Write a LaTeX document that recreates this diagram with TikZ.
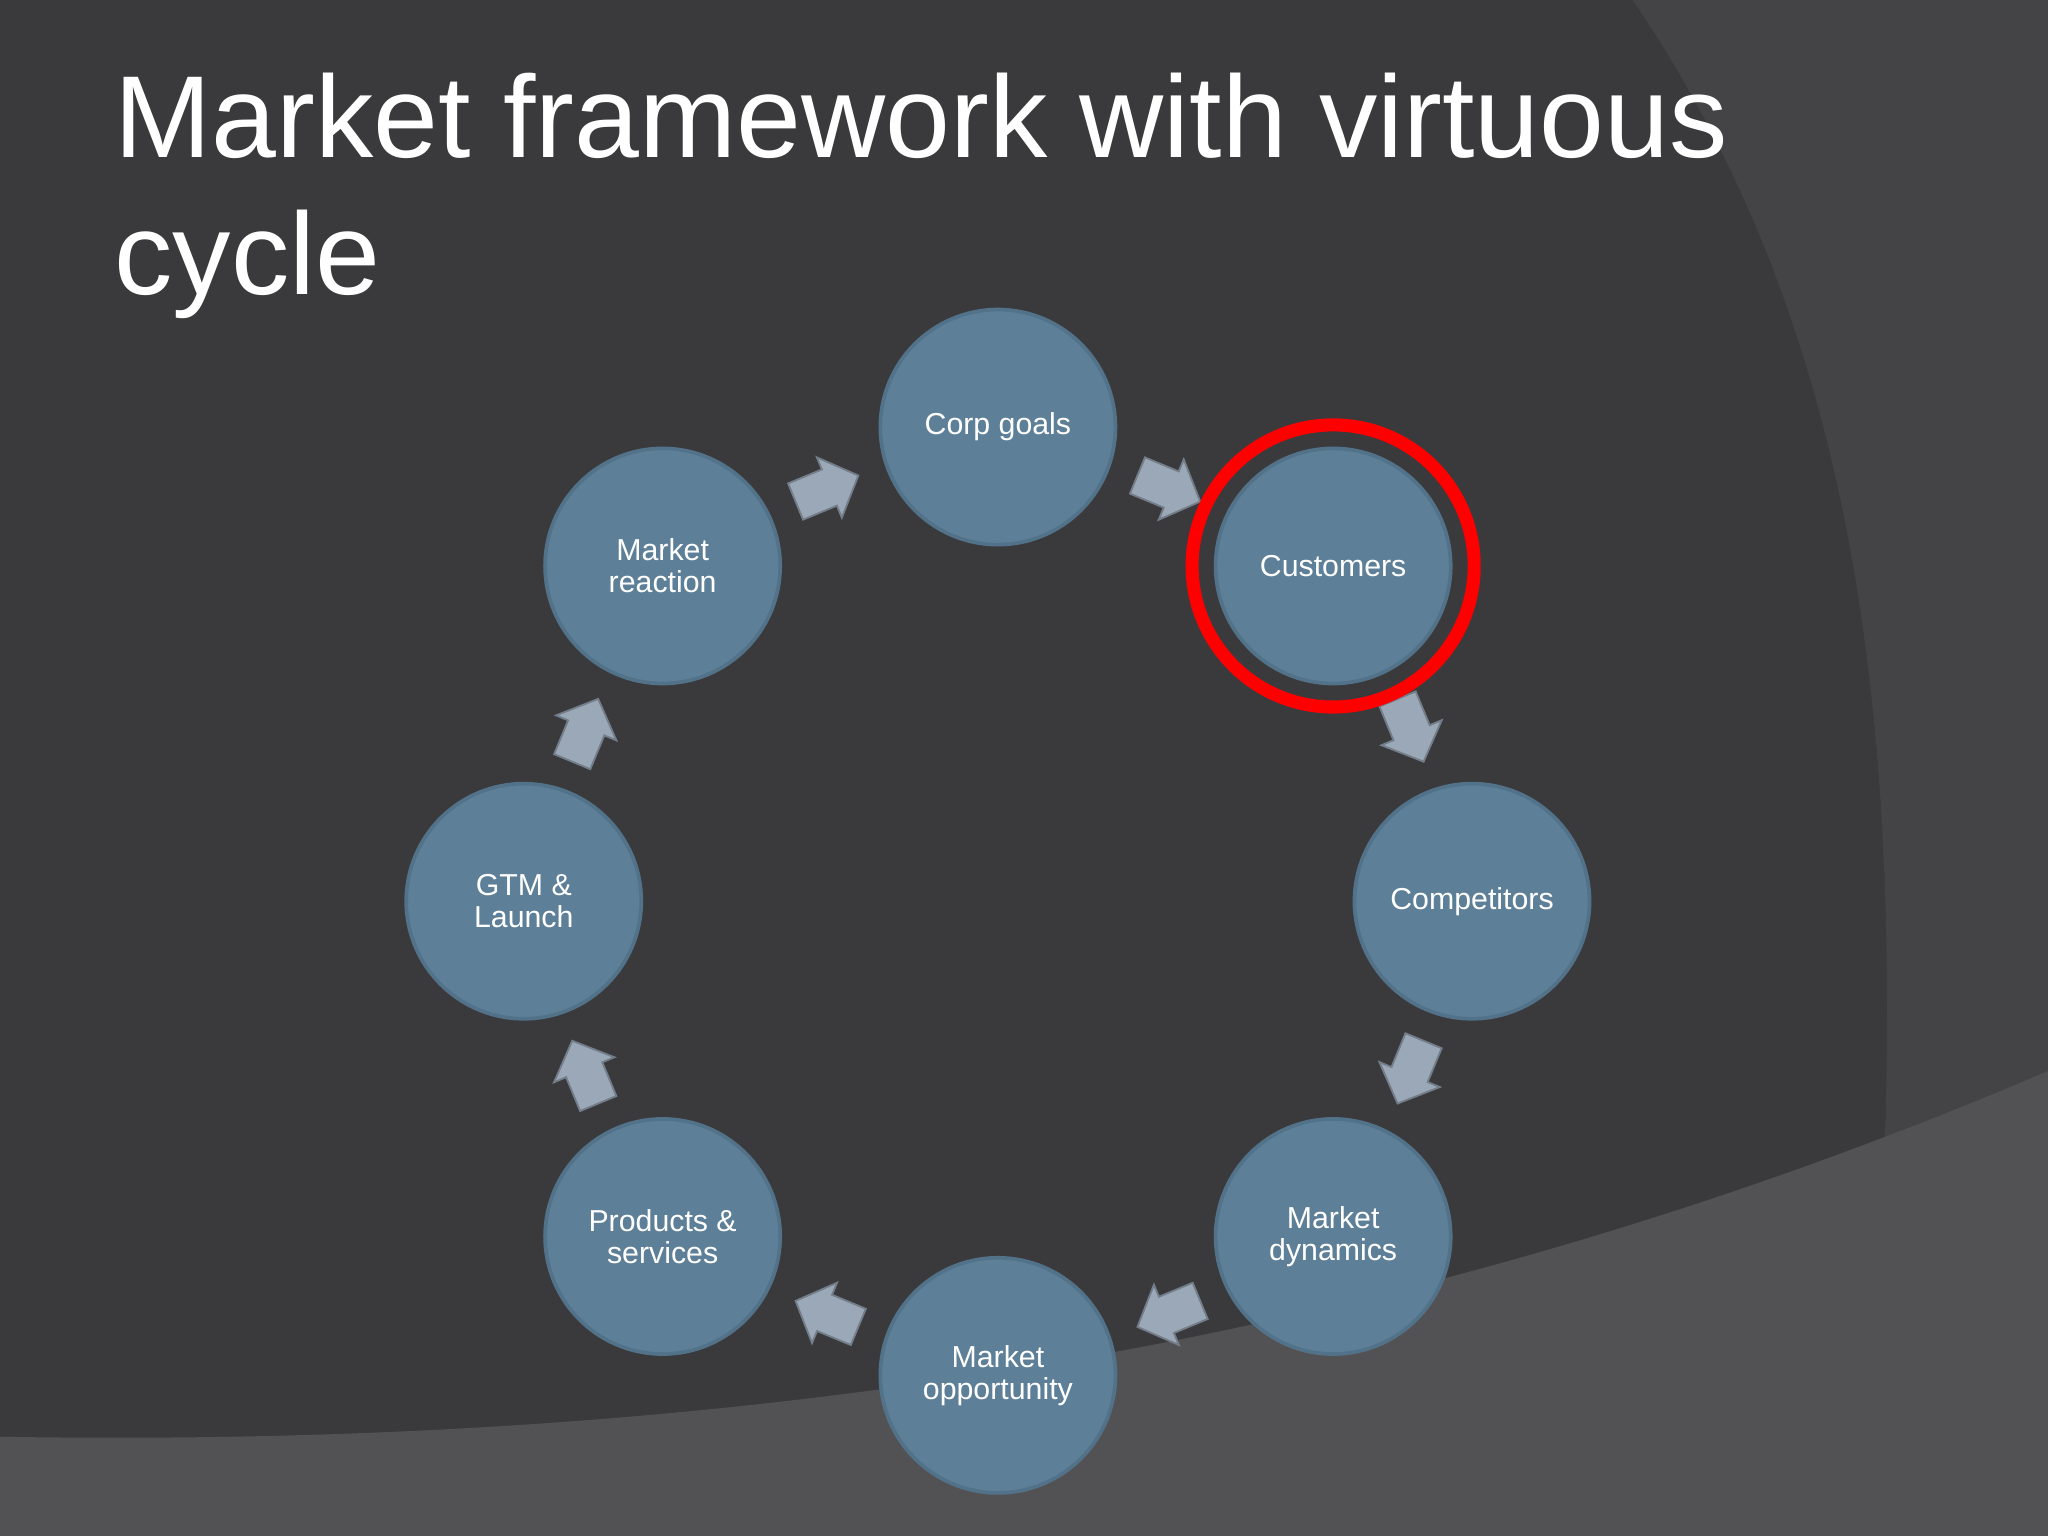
\documentclass[tikz,border=0pt]{standalone}
\usepackage{fontspec}
\setmainfont{Liberation Sans}
\definecolor{bg}{HTML}{3A3A3C}
\definecolor{bgl}{HTML}{444446}
\definecolor{band}{HTML}{525254}
\definecolor{ball}{HTML}{5E7F98}
\definecolor{ballrim}{HTML}{52728A}
\definecolor{arr}{HTML}{9AA8B8}
\tikzset{
 ballnode/.style={circle,minimum size=1.8cm,fill=ball,draw=ballrim,line width=0.8pt,text=white,font=\fontsize{6.6}{7}\selectfont,align=center,inner sep=0pt},
 arrshape/.style={fill=arr,draw=arr!75!black,line width=0.4pt}
}
\begin{document}
\begin{tikzpicture}
\useasboundingbox (0,0) rectangle (15.68,-11.76);
\fill[bg] (0,0) rectangle (15.68,-11.76);
\fill[bgl] (12.5,0) .. controls (14.2,-2.5) and (14.6,-5.5) .. (14.4,-9.5) -- (15.68,-8.2) -- (15.68,0) -- cycle;
\fill[band] (0,-11.0) .. controls (6,-11.1) and (11,-10.2) .. (15.68,-8.2) -- (15.68,-11.76) -- (0,-11.76) -- cycle;
\node[anchor=north west,text=white,font=\fontsize{25.4}{30}\selectfont,align=left,inner sep=0pt] (title) at (0.87,-0.55) {Market framework with virtuous\\cycle};
\begin{scope}[shift={(7.64,-6.90)}]
\node[ballnode] (n1) at (90:3.63) {Corp goals};
\node[ballnode] (n2) at (45:3.63) {Customers};
\node[ballnode] (n3) at (0:3.63) {Competitors};
\node[ballnode] (n4) at (-45:3.63) {Market\\dynamics};
\node[ballnode] (n5) at (-90:3.63) {Market\\opportunity};
\node[ballnode] (n6) at (-135:3.63) {Products \&\\services};
\node[ballnode] (n7) at (180:3.63) {GTM \&\\Launch};
\node[ballnode] (n8) at (135:3.63) {Market\\reaction};
\foreach \a [count=\i] in {67.5,22.5,-22.5,-67.5,-112.5,-157.5,157.5,112.5}{
  \coordinate (a\i) at (\a:3.42);
  \draw[arrshape,shift={(a\i)},rotate=\a-90] (-0.26,-0.15) -- (0.02,-0.15) -- (0.02,-0.25) -- (0.26,0) -- (0.02,0.25) -- (0.02,0.15) -- (-0.26,0.15) -- cycle;
}
\draw[red,line width=0.1cm] (n2) circle (1.08);
\end{scope}
\end{tikzpicture}
\end{document}
